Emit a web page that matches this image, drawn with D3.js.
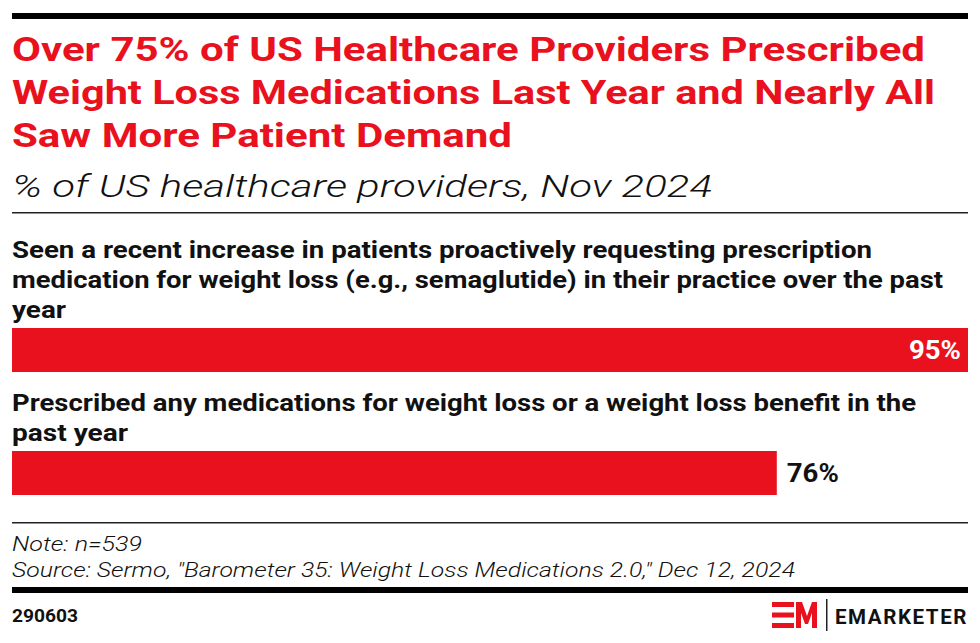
<!DOCTYPE html>
<html><head><meta charset="utf-8">
<script src="https://cdn.jsdelivr.net/npm/d3@7"></script>
<style>body{margin:0;background:#fff}svg{display:block}</style>
</head><body>
<script>
const categories = [
  ["Seen a recent increase in patients proactively requesting prescription","medication for weight loss (e.g., semaglutide) in their practice over the past","year"],
  ["Prescribed any medications for weight loss or a weight loss benefit in the","past year"]
];
const values = [95, 76];
const valueLabels = ["95%", "76%"];
const titleLines = ["Over 75% of US Healthcare Providers Prescribed","Weight Loss Medications Last Year and Nearly All","Saw More Patient Demand"];
const subtitle = "% of US healthcare providers, Nov 2024";
const noteLines = ["Note: n=539", "Source: Sermo, \"Barometer 35: Weight Loss Medications 2.0,\" Dec 12, 2024"];
const chartId = "290603";

const W = 980, H = 643, L = 12, R = 968;
const RED = "#e8111d";
const svg = d3.select("body").append("svg").attr("width", W).attr("height", H);
const FONT = "Roboto, 'Liberation Sans', sans-serif";

function fitText(sel, width) {
  sel.each(function(){ const n=this; const w=n.getComputedTextLength(); if (width && w>0) { d3.select(n).attr("textLength", width).attr("lengthAdjust","spacingAndGlyphs"); } });
}

// top rule
svg.append("rect").attr("x", L).attr("y", 13).attr("width", R-L).attr("height", 6).attr("fill", "#000");

const titleWidths = [913, 923, 500];
titleLines.forEach((t,i)=>{
  svg.append("text").attr("x", L).attr("y", 61 + i*43).text(t)
    .attr("font-family", FONT).attr("font-weight", 700).attr("font-size", 34).attr("fill", RED)
    .call(s=>fitText(s, titleWidths[i]));
});
svg.append("text").attr("x", L).attr("y", 197).text(subtitle)
  .attr("font-family", FONT).attr("font-weight", 300).attr("font-style","italic").attr("font-size", 31).attr("fill", "#111")
  .call(s=>fitText(s, 700));
svg.append("rect").attr("x", L).attr("y", 212).attr("width", R-L).attr("height", 1.5).attr("fill", "#222");

const x = d3.scaleLinear().domain([0, d3.max(values)]).range([L, R]);
const labelWidths = [[860, 931, 54],[904, 116]];
let yCursor = 258;
const lineH = 30, barH = 44;
categories.forEach((lines, i) => {
  const g = svg.append("g");
  lines.forEach((ln, j) => {
    g.append("text").attr("x", L).attr("y", yCursor + j*lineH).text(ln)
      .attr("font-family", FONT).attr("font-weight", 700).attr("font-size", 23).attr("fill", "#111")
      .call(s=>fitText(s, labelWidths[i][j]));
  });
  const barTop = yCursor + (lines.length-1)*lineH + 10;
  g.append("rect").attr("x", x(0)).attr("y", barTop).attr("width", x(values[i]) - x(0)).attr("height", barH).attr("fill", RED);
  const inside = values[i] === d3.max(values);
  g.append("text").text(valueLabels[i])
    .attr("x", inside ? x(values[i]) - 7 : x(values[i]) + 10)
    .attr("y", barTop + 31)
    .attr("text-anchor", inside ? "end" : "start")
    .attr("font-family", FONT).attr("font-weight", 700).attr("font-size", 25)
    .attr("fill", inside ? "#fff" : "#111")
    .call(s=>fitText(s, 52));
  yCursor = barTop + barH + 39;
});

// footer
svg.append("rect").attr("x", L).attr("y", 522).attr("width", R-L).attr("height", 1.5).attr("fill", "#222");
const noteWidths = [130, 783];
noteLines.forEach((t,i)=>{
  svg.append("text").attr("x", L).attr("y", 551 + i*26).text(t)
    .attr("font-family", FONT).attr("font-weight", 300).attr("font-style","italic").attr("font-size", 20).attr("fill", "#111")
    .call(s=>fitText(s, noteWidths[i]));
});
svg.append("rect").attr("x", L).attr("y", 587).attr("width", R-L).attr("height", 6).attr("fill", "#000");
svg.append("text").attr("x", L).attr("y", 622).text(chartId)
  .attr("font-family", FONT).attr("font-weight", 700).attr("font-size", 18).attr("fill", "#111")
  .call(s=>fitText(s, 66));

// logo
const lg = svg.append("g").attr("transform", "translate(772,602)");
lg.append("rect").attr("x",0).attr("y",0).attr("width",22).attr("height",5).attr("fill",RED);
lg.append("rect").attr("x",0).attr("y",10.5).attr("width",22).attr("height",5).attr("fill",RED);
lg.append("rect").attr("x",0).attr("y",21).attr("width",22).attr("height",5).attr("fill",RED);
lg.append("path").attr("d","M24,26 L24,0 L30,0 L35,14 L40,0 L45,0 L45,26 L40,26 L40,11 L36,22 L33,22 L29,11 L29,26 Z").attr("fill",RED);
lg.append("rect").attr("x",54).attr("y",-3).attr("width",1.5).attr("height",32).attr("fill","#222");
svg.append("text").attr("x", 835).attr("y", 624).text("EMARKETER")
  .attr("font-family", FONT).attr("font-weight", 700).attr("font-size", 20).attr("letter-spacing", 1.5).attr("fill", "#111")
  .call(s=>fitText(s, 133));
</script>
</body></html>
